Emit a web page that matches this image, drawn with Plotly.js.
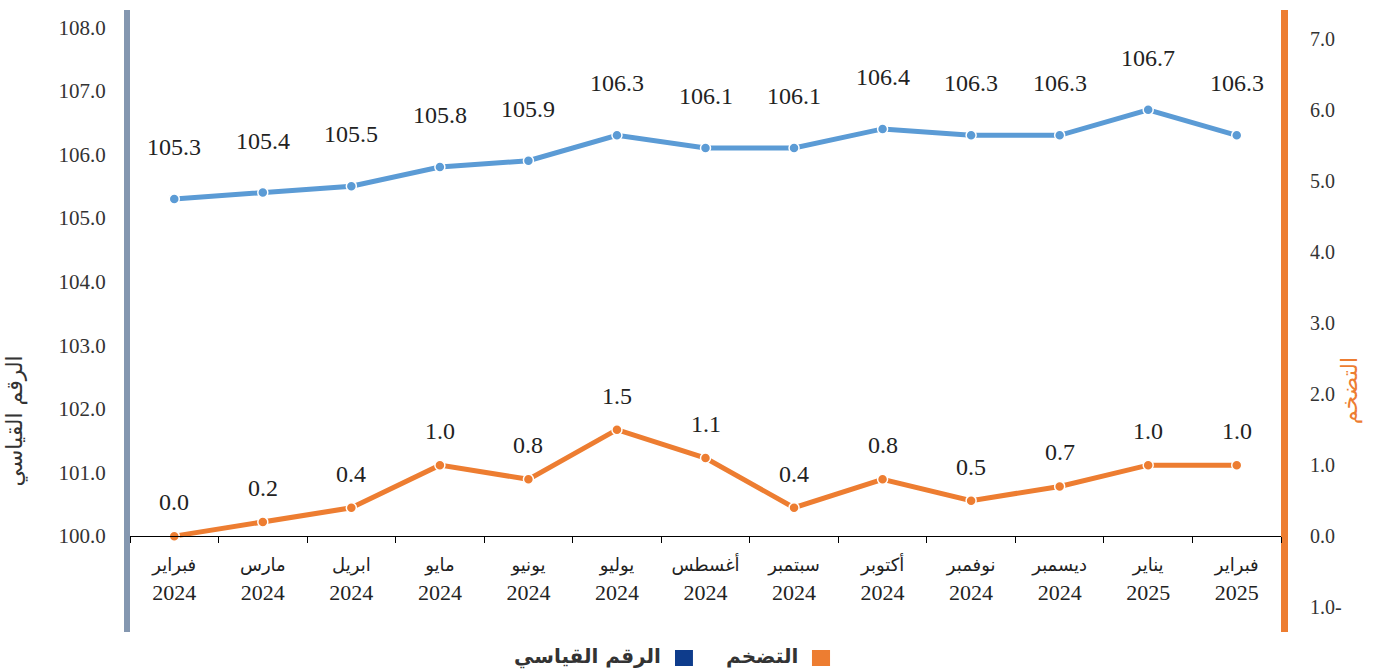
<!DOCTYPE html>
<html>
<head>
<meta charset="utf-8">
<script src="https://cdn.plot.ly/plotly-3.0.1.min.js"></script>
<style>html,body{margin:0;padding:0;background:#fff;}#chart{width:1383px;height:670px;}</style>
</head>
<body>
<div id="chart"></div>
<script>
const months = ["فبراير","مارس","ابريل","مايو","يونيو","يوليو","أغسطس","سبتمبر","أكتوبر","نوفمبر","ديسمبر","يناير","فبراير"];
const years = ["2024","2024","2024","2024","2024","2024","2024","2024","2024","2024","2024","2025","2025"];
const indexValues = [105.3,105.4,105.5,105.8,105.9,106.3,106.1,106.1,106.4,106.3,106.3,106.7,106.3];
const inflationValues = [0.0,0.2,0.4,1.0,0.8,1.5,1.1,0.4,0.8,0.5,0.7,1.0,1.0];
const leftTicks = [100,101,102,103,104,105,106,107,108];
const rightTicks = [-1,0,1,2,3,4,5,6,7];
const rightTickText = ["1.0-","0.0","1.0","2.0","3.0","4.0","5.0","6.0","7.0"];
const seriesNames = ["الرقم القياسي","التضخم"];

const categories = months.map((m,i)=> m + " " + years[i]);
const tickText = months.map((m,i)=> '<span style="font-size:18px">' + m + '</span><br>' + years[i]);

const blue = '#5b9bd5', orange = '#ed7d31';
const serif = 'Liberation Serif, Times New Roman, DejaVu Sans, serif';

const traces = [
  {x: categories, y: indexValues, type:'scatter', mode:'lines+markers', name: seriesNames[0],
   line:{color:blue, width:5}, marker:{color:blue, size:10, line:{color:'#fff', width:1.5}}, yaxis:'y'},
  {x: categories, y: inflationValues, type:'scatter', mode:'lines+markers', name: seriesNames[1],
   line:{color:orange, width:5}, marker:{color:orange, size:10, line:{color:'#fff', width:1.5}}, yaxis:'y2'}
];

const annotations = [];
categories.forEach((c,i)=>{
  annotations.push({x:c, y:indexValues[i], xref:'x', yref:'y', text: indexValues[i].toFixed(1),
    showarrow:false, yshift:52, font:{family:serif, size:24, color:'#222'}});
  annotations.push({x:c, y:inflationValues[i], xref:'x', yref:'y2', text: inflationValues[i].toFixed(1),
    showarrow:false, yshift:34, font:{family:serif, size:24, color:'#222'}});
});
// axis titles
annotations.push({xref:'paper', yref:'paper', x:-0.113, y:0.34, text: seriesNames[0], textangle:-90,
  showarrow:false, font:{family:'DejaVu Sans, sans-serif', size:22, color:'#333'}});
annotations.push({xref:'paper', yref:'paper', x:1.073, y:0.33, text: seriesNames[1], textangle:-90,
  showarrow:false, font:{family:'DejaVu Sans, sans-serif', size:22, color:orange}});
// manual legend (RTL: text left of swatch)
annotations.push({xref:'paper', yref:'paper', x:0.4631, y:-0.0386, xanchor:'right', yanchor:'middle', text: '<b>' + seriesNames[0] + '</b>',
  showarrow:false, font:{family:'DejaVu Sans, sans-serif', size:20, color:'#333'}});
annotations.push({xref:'paper', yref:'paper', x:0.5821, y:-0.0386, xanchor:'right', yanchor:'middle', text: '<b>' + seriesNames[1] + '</b>',
  showarrow:false, font:{family:'DejaVu Sans, sans-serif', size:20, color:'#333'}});

const shapes = [
  {type:'rect', xref:'paper', yref:'paper', x0:0.4735, x1:0.4891, y0:-0.0289, y1:-0.0547, fillcolor:'#0e3c8c', line:{width:0}},
  {type:'rect', xref:'paper', yref:'paper', x0:0.5925, x1:0.6082, y0:-0.0289, y1:-0.0547, fillcolor:orange, line:{width:0}}
];

const layout = {
  width:1383, height:670,
  margin:{l:130, r:102, t:10, b:38},
  paper_bgcolor:'#fff', plot_bgcolor:'#fff',
  showlegend:false,
  xaxis:{type:'category', range:[-0.5,12.5], anchor:'free', position:0.1543, showline:true, linecolor:'#000', linewidth:1,
    ticks:'outside', tickson:'boundaries', ticklen:6, tickcolor:'#000', tickwidth:1,
    tickvals: categories, ticktext: tickText, showgrid:false, zeroline:false,
    ticklabelstandoff:8, tickfont:{family:serif, size:22, color:'#222'}},
  yaxis:{range:[98.49,108.27], tickvals:leftTicks, tickformat:'.1f', showgrid:false, zeroline:false,
    showline:true, linecolor:'#8497b0', linewidth:6, ticks:'', ticklabelstandoff:14,
    tickfont:{family:serif, size:21, color:'#333'}},
  yaxis2:{overlaying:'y', side:'right', range:[-1.35,7.41], tickvals:rightTicks, ticktext:rightTickText,
    showgrid:false, zeroline:false, showline:true, linecolor:orange, linewidth:7, ticks:'', ticklabelstandoff:18,
    tickfont:{family:serif, size:20, color:'#333'}},
  annotations: annotations,
  shapes: shapes
};

Plotly.newPlot('chart', traces, layout, {displayModeBar:false, staticPlot:true});
</script>
</body>
</html>
